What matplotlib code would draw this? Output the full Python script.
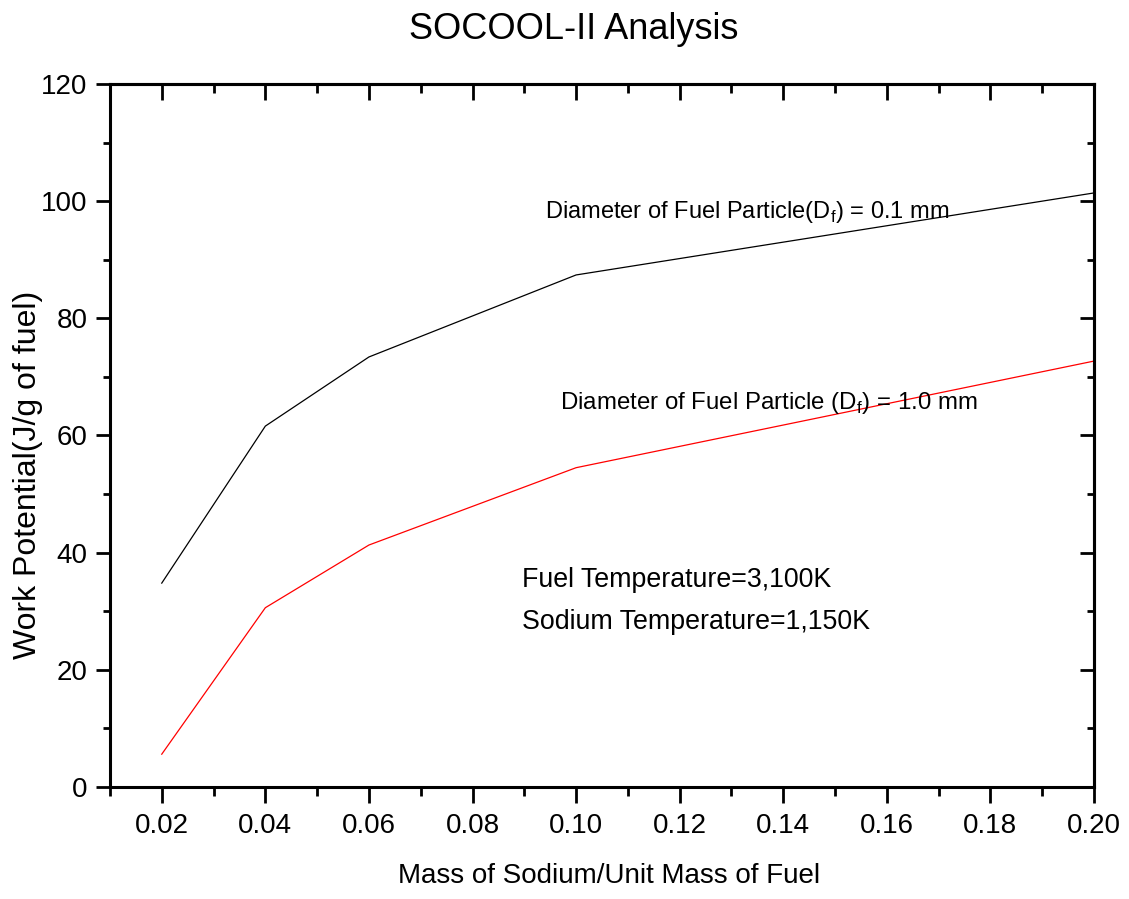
import numpy as np
import matplotlib
matplotlib.use("Agg")
import matplotlib.pyplot as plt
from matplotlib.ticker import MultipleLocator, FormatStrFormatter

plt.rcParams['font.family'] = ['Liberation Sans', 'DejaVu Sans']
plt.rcParams['mathtext.fontset'] = 'custom'
plt.rcParams['mathtext.rm'] = 'Liberation Sans'

# data
mass_ratio = [0.02, 0.04, 0.06, 0.10, 0.20]
work_01mm = [34.8, 61.6, 73.4, 87.4, 101.4]
work_10mm = [5.6, 30.6, 41.3, 54.5, 72.7]

fig = plt.figure(figsize=(11.29, 8.99), dpi=100)
ax = fig.add_axes([0.0974, 0.1246, 0.8716, 0.782])

ax.plot(mass_ratio, work_01mm, color='black', lw=0.9)
ax.plot(mass_ratio, work_10mm, color='red', lw=0.9)

ax.set_xlim(0.01, 0.20)
ax.set_ylim(0, 120)

for s in ax.spines.values():
    s.set_linewidth(2.2)

ax.xaxis.set_major_locator(MultipleLocator(0.02))
ax.xaxis.set_minor_locator(MultipleLocator(0.01))
ax.xaxis.set_major_formatter(FormatStrFormatter('%.2f'))
ax.yaxis.set_major_locator(MultipleLocator(20))
ax.yaxis.set_minor_locator(MultipleLocator(10))

ax.tick_params(axis='x', which='major', direction='out', length=11.5, width=2, labelsize=20, pad=7)
ax.tick_params(axis='x', which='minor', direction='out', length=6.5, width=2)
ax.tick_params(axis='y', which='major', direction='out', length=10, width=2, labelsize=20, pad=6)
ax.tick_params(axis='y', which='minor', direction='out', length=5, width=2)

# top and right ticks point inward
top = ax.secondary_xaxis('top')
top.xaxis.set_major_locator(MultipleLocator(0.02))
top.xaxis.set_minor_locator(MultipleLocator(0.01))
top.tick_params(which='major', direction='in', length=11.5, width=2, labeltop=False)
top.tick_params(which='minor', direction='in', length=6.5, width=2)
top.spines['top'].set_linewidth(2.2)

right = ax.secondary_yaxis('right')
right.yaxis.set_major_locator(MultipleLocator(20))
right.yaxis.set_minor_locator(MultipleLocator(10))
right.tick_params(which='major', direction='in', length=10, width=2, labelright=False)
right.tick_params(which='minor', direction='in', length=5, width=2)
right.spines['right'].set_linewidth(2.2)

ax.set_xlabel('Mass of Sodium/Unit Mass of Fuel', fontsize=20)
ax.xaxis.set_label_coords(0.507, -0.108)
ax.set_ylabel('Work Potential(J/g of fuel)', fontsize=23)
ax.yaxis.set_label_coords(-0.068, 0.444)
fig.suptitle('SOCOOL-II Analysis', fontsize=26, x=0.508, y=0.987)

ax.text(0.094, 98.2, r'Diameter of Fuel Particle(D$_\mathrm{f}$) = 0.1 mm', fontsize=17, va='center')
ax.text(0.0969, 65.5, r'Diameter of Fuel Particle (D$_\mathrm{f}$) = 1.0 mm', fontsize=17.3, va='center')
ax.text(0.0896, 35.3, 'Fuel Temperature=3,100K', fontsize=19.3, va='center')
ax.text(0.0896, 28.2, 'Sodium Temperature=1,150K', fontsize=19.3, va='center')

fig.savefig('out.png', dpi=100)
